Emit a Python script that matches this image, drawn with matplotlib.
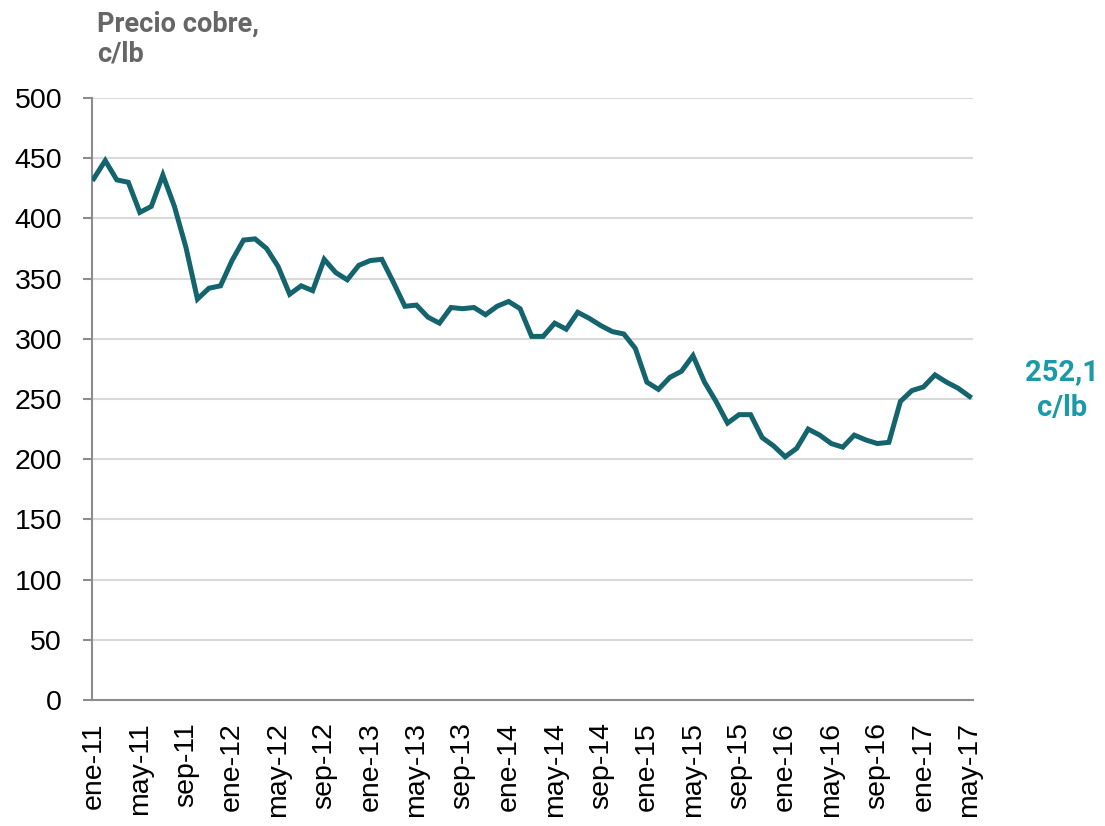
import matplotlib
matplotlib.use("Agg")
import matplotlib.pyplot as plt
import numpy as np

# Monthly copper price, c/lb, ene-11 .. may-17
months_es = ["ene", "feb", "mar", "abr", "may", "jun", "jul", "ago", "sep", "oct", "nov", "dic"]
price = [433, 448, 432, 430, 405, 410, 436, 410, 376, 333, 342, 344,
         365, 382, 383, 375, 360, 337, 344, 340, 366, 355, 349, 361,
         365, 366, 347, 327, 328, 318, 313, 326, 325, 326, 320, 327,
         331, 325, 302, 302, 313, 308, 322, 317, 311, 306, 304, 292,
         264, 258, 268, 273, 286, 264, 248, 230, 237, 237, 218, 211,
         202, 209, 225, 220, 213, 210, 220, 216, 213, 214, 248, 257,
         260, 270, 264, 259, 252.1]
labels = [f"{months_es[i % 12]}-{11 + i // 12}" for i in range(len(price))]
tick_idx = list(range(0, len(price), 4))
y_ticks = [0, 50, 100, 150, 200, 250, 300, 350, 400, 450, 500]
title_text = "Precio cobre,\nc/lb"
end_label = "252,1\nc/lb"

fig = plt.figure(figsize=(11.05, 8.26), dpi=100)
ax = fig.add_axes([92 / 1105, 126 / 826, 881 / 1105, 602 / 826])

x = np.arange(len(price))
ax.plot(x, price, color="#14646E", lw=3.6, solid_joinstyle="miter", zorder=3)

ax.set_ylim(0, 500)
ax.set_xlim(-0.15, 76.3)
ax.set_yticks(y_ticks)
ax.set_yticklabels([str(v) for v in y_ticks], fontsize=20.5, family="Liberation Sans", color="#000000")
ax.set_xticks(tick_idx)
ax.set_xticklabels([labels[i] for i in tick_idx], rotation=90, fontsize=20.5,
                   family="Liberation Sans", color="#000000")

ax.grid(axis="y", color="#d9d9d9", lw=1.5, zorder=0)
for s in ["top", "right"]:
    ax.spines[s].set_visible(False)
for s in ["left", "bottom"]:
    ax.spines[s].set_color("#8c8c8c")
    ax.spines[s].set_linewidth(1.5)
ax.tick_params(axis="y", length=6.5, width=1.5, color="#8c8c8c", pad=15)
ax.tick_params(axis="x", length=0, pad=16)

fig.text(97 / 1105, 1 - 11 / 826, title_text, ha="left", va="top", fontsize=19.5,
         family="Roboto", weight="bold", color="#666666", linespacing=1.1)
fig.text(1062 / 1105, 1 - 390 / 826, end_label, ha="center", va="center", fontsize=21,
         family="Roboto", weight="bold", color="#1A9AA6", linespacing=1.35)

fig.savefig("out.png", dpi=100)
